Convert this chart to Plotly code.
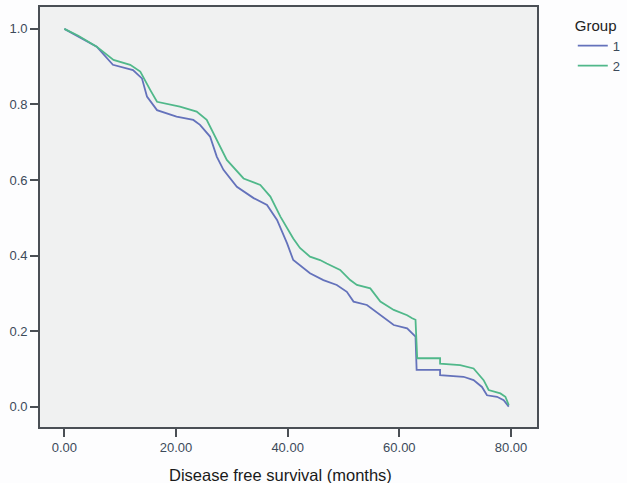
import plotly.graph_objects as go

# Group 1 (blue) survival curve
t1 = [0, 2.5, 5.8, 8.7, 12.3, 13.9, 14.8, 16.6, 20.1, 23.1, 24.3, 26.1, 27.3, 28.5,
      30.9, 33.9, 36.3, 38.1, 39.9, 41.0, 44.0, 46.4, 48.8, 50.6, 51.8, 54.2, 56.6,
      59.0, 61.4, 62.3, 62.9, 63.1, 67.3, 67.3, 71.5, 73.3, 74.8, 75.7, 77.5, 78.7, 79.6]
s1 = [1.0, 0.98, 0.953, 0.905, 0.891, 0.869, 0.821, 0.785, 0.768, 0.759, 0.746, 0.715,
      0.662, 0.627, 0.582, 0.552, 0.534, 0.494, 0.432, 0.388, 0.353, 0.335, 0.322, 0.304,
      0.278, 0.269, 0.243, 0.216, 0.207, 0.194, 0.185, 0.097, 0.097, 0.083, 0.079, 0.070,
      0.052, 0.030, 0.026, 0.017, 0.0]

# Group 2 (green) survival curve
t2 = [0, 2.5, 5.8, 8.8, 11.8, 13.6, 15.4, 16.6, 20.7, 23.7, 25.5, 27.3, 29.1, 32.1,
      35.1, 36.9, 38.7, 41.0, 42.2, 44.0, 45.8, 47.0, 49.4, 51.2, 52.4, 54.8, 56.6,
      59.0, 61.4, 62.3, 62.9, 63.2, 67.3, 67.3, 70.9, 73.3, 75.1, 76.0, 78.1, 79.0, 79.6]
s2 = [1.0, 0.982, 0.953, 0.918, 0.905, 0.887, 0.838, 0.807, 0.794, 0.781, 0.759, 0.706,
      0.653, 0.604, 0.587, 0.556, 0.503, 0.445, 0.42, 0.397, 0.388, 0.379, 0.362, 0.335,
      0.322, 0.313, 0.278, 0.256, 0.242, 0.234, 0.230, 0.128, 0.128, 0.114, 0.110, 0.101,
      0.070, 0.044, 0.035, 0.026, 0.004]

x_ticks = [0, 20, 40, 60, 80]
x_tick_labels = ["0.00", "20.00", "40.00", "60.00", "80.00"]
y_ticks = [0.0, 0.2, 0.4, 0.6, 0.8, 1.0]
y_tick_labels = ["0.0", "0.2", "0.4", "0.6", "0.8", "1.0"]
x_title = "Disease free survival (months)"

fig = go.Figure()
fig.add_trace(go.Scatter(x=t1, y=s1, mode="lines", name="1",
                         line=dict(color="#6472bb", width=1.8)))
fig.add_trace(go.Scatter(x=t2, y=s2, mode="lines", name="2",
                         line=dict(color="#50b88a", width=1.8)))

tickfont = dict(family="Liberation Sans, Arial", size=13, color="#3c4a5a")
fig.update_layout(
    width=627, height=483,
    margin=dict(l=40, r=90, t=7, b=56, autoexpand=False),
    paper_bgcolor="#fdfdfe",
    plot_bgcolor="#f0f1f1",
    font=dict(family="Liberation Sans, Arial", color="#222"),
    legend=dict(
        title=dict(text="Group", side="top", font=dict(size=15, color="#222")),
        x=1.072, y=0.99, xanchor="left", yanchor="top",
        font=dict(size=13, color="#3c4a5a"),
        bgcolor="rgba(0,0,0,0)", tracegroupgap=0, itemwidth=30,
    ),
    xaxis=dict(
        range=[-4.36, 84.66], tickvals=x_ticks, ticktext=x_tick_labels,
        showgrid=False, zeroline=False, showline=True, mirror=True,
        linecolor="#4a4f55", linewidth=1.6, ticks="outside", ticklen=8,
        tickcolor="#4a4f55", tickwidth=1.5, tickfont=tickfont,
    ),
    yaxis=dict(
        range=[-0.054, 1.058], tickvals=y_ticks, ticktext=y_tick_labels,
        showgrid=False, zeroline=False, showline=True, mirror=True,
        linecolor="#4a4f55", linewidth=1.6, ticks="outside", ticklen=8,
        tickcolor="#4a4f55", tickwidth=1.5, tickfont=tickfont,
    ),
    annotations=[dict(
        text=x_title, xref="paper", yref="paper", x=0.483, y=-0.115,
        xanchor="center", yanchor="middle", showarrow=False,
        font=dict(size=16.5, color="#1a1a1a"),
    )],
)

fig.write_html("out.html", config={"displayModeBar": False},
               post_script="document.body.style.margin='0px';document.body.style.padding='0px';")
